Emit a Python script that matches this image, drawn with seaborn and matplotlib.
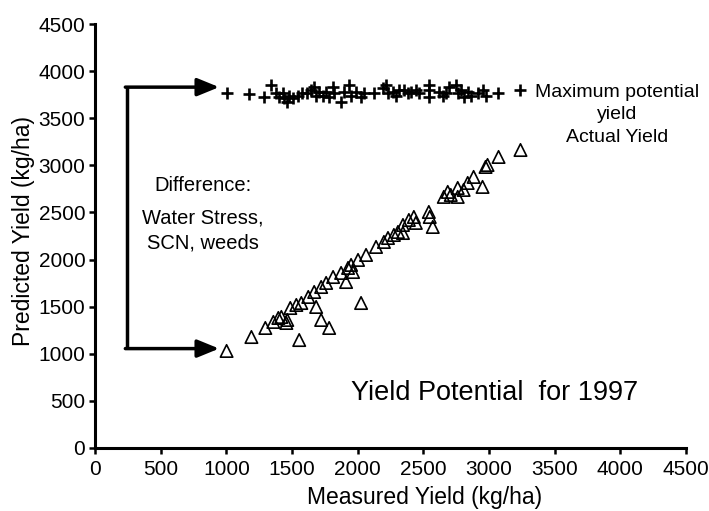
import matplotlib
matplotlib.use("Agg")
import matplotlib.pyplot as plt
import seaborn as sns
import numpy as np
import pandas as pd

# ---- data ----
actual_x = [1002, 1191, 1297, 1358, 1396, 1419, 1457, 1464, 1487, 1533, 1555, 1571,
            1624, 1669, 1684, 1722, 1722, 1760, 1783, 1813, 1874, 1912, 1927, 1950,
            1965, 2003, 2026, 2064, 2140, 2200, 2231, 2276, 2307, 2345, 2345, 2390,
            2428, 2443, 2542, 2549, 2572, 2656, 2686, 2709, 2762, 2762, 2807, 2838,
            2883, 2951, 2974, 2989, 3073, 3240]
actual_y = [1030, 1178, 1274, 1338, 1380, 1391, 1327, 1359, 1486, 1518, 1146, 1539,
            1603, 1656, 1497, 1359, 1709, 1752, 1274, 1815, 1858, 1762, 1911, 1943,
            1868, 1996, 1539, 2049, 2134, 2187, 2229, 2261, 2293, 2282, 2367, 2420,
            2452, 2389, 2505, 2452, 2346, 2665, 2718, 2686, 2665, 2760, 2739, 2813,
            2877, 2771, 2983, 3004, 3089, 3163]

max_x = [1002, 1176, 1290, 1343, 1381, 1404, 1434, 1442, 1464, 1480, 1510, 1548,
         1578, 1616, 1647, 1669, 1684, 1707, 1737, 1760, 1783, 1813, 1821, 1874,
         1897, 1935, 1950, 1988, 2026, 2049, 2124, 2193, 2215, 2231, 2269, 2291,
         2314, 2352, 2382, 2405, 2443, 2466, 2542, 2542, 2542, 2618, 2648, 2671,
         2694, 2747, 2762, 2785, 2807, 2838, 2860, 2913, 2951, 2974, 3065, 3240]
max_y = [3769, 3758, 3726, 3854, 3769, 3726, 3769, 3716, 3673, 3737, 3716, 3737,
         3769, 3769, 3800, 3832, 3737, 3779, 3737, 3779, 3726, 3832, 3769, 3673,
         3779, 3854, 3737, 3779, 3726, 3769, 3769, 3822, 3854, 3769, 3779, 3737,
         3800, 3800, 3769, 3779, 3800, 3769, 3854, 3800, 3726, 3779, 3737, 3769,
         3832, 3854, 3769, 3800, 3726, 3779, 3737, 3769, 3800, 3737, 3769, 3800]

ticks = [0, 500, 1000, 1500, 2000, 2500, 3000, 3500, 4000, 4500]

# bracket annotation (data units)
bracket_x = 243
bracket_tip_x = 945
bracket_top = 3830
bracket_bottom = 1055

sns.set_theme(style="ticks")
plt.rcParams['font.family'] = ['Liberation Sans', 'DejaVu Sans']
plt.rcParams['text.color'] = 'black'
plt.rcParams['axes.labelcolor'] = 'black'

fig = plt.figure(figsize=(7.09, 5.11), dpi=100)
ax = fig.add_axes([0.134, 0.1233, 0.8335, 0.8297])

df_a = pd.DataFrame({"x": actual_x, "y": actual_y})
df_m = pd.DataFrame({"x": max_x, "y": max_y})

sns.scatterplot(data=df_m, x="x", y="y", marker="+", color="black", s=70,
                linewidth=1.9, ax=ax, zorder=3)
sns.scatterplot(data=df_a, x="x", y="y", marker="^", s=80, ax=ax,
                facecolor="none", edgecolor="black", linewidth=1.2, zorder=3)

ax.set_xlim(0, 4500)
ax.set_ylim(0, 4500)
ax.set_xticks(ticks)
ax.set_yticks(ticks)
ax.set_xticklabels([str(t) for t in ticks], fontsize=15)
ax.set_yticklabels([str(t) for t in ticks], fontsize=15)
ax.tick_params(axis='both', length=4, width=1.8, colors='black')
ax.tick_params(axis='x', pad=5)
ax.tick_params(axis='y', pad=3)
for s in ['left', 'bottom']:
    ax.spines[s].set_linewidth(2.2)
    ax.spines[s].set_color('black')
sns.despine(ax=ax)

ax.set_xlabel("Measured Yield (kg/ha)", fontsize=16.5)
ax.set_ylabel("Predicted Yield (kg/ha)", fontsize=16.5)
ax.xaxis.set_label_coords(0.558, -0.09)
ax.yaxis.set_label_coords(-0.102, 0.512)

# bracket with arrows
ax.plot([bracket_x, bracket_x], [bracket_top, bracket_bottom], color='black',
        lw=2.5, solid_capstyle='butt', zorder=2)
for yy in (bracket_top, bracket_bottom):
    ax.annotate("", xy=(bracket_tip_x, yy), xytext=(bracket_x - 12, yy),
                arrowprops=dict(arrowstyle="-|>,head_length=1.1,head_width=0.45",
                                color='black', lw=2.5, shrinkA=0, shrinkB=0))

ax.text(819, 2790, "Difference:", fontsize=14.5, ha='center', va='center')
ax.text(819, 2442, "Water Stress,", fontsize=14.5, ha='center', va='center')
ax.text(819, 2175, "SCN, weeds", fontsize=14.5, ha='center', va='center')

ax.text(3976, 3775, "Maximum potential", fontsize=14, ha='center', va='center')
ax.text(3976, 3535, "yield", fontsize=14, ha='center', va='center')
ax.text(3976, 3300, "Actual Yield", fontsize=14, ha='center', va='center')

ax.text(1950, 584, "Yield Potential  for 1997", fontsize=19.5, ha='left', va='center')

fig.savefig("out.png", dpi=100)
